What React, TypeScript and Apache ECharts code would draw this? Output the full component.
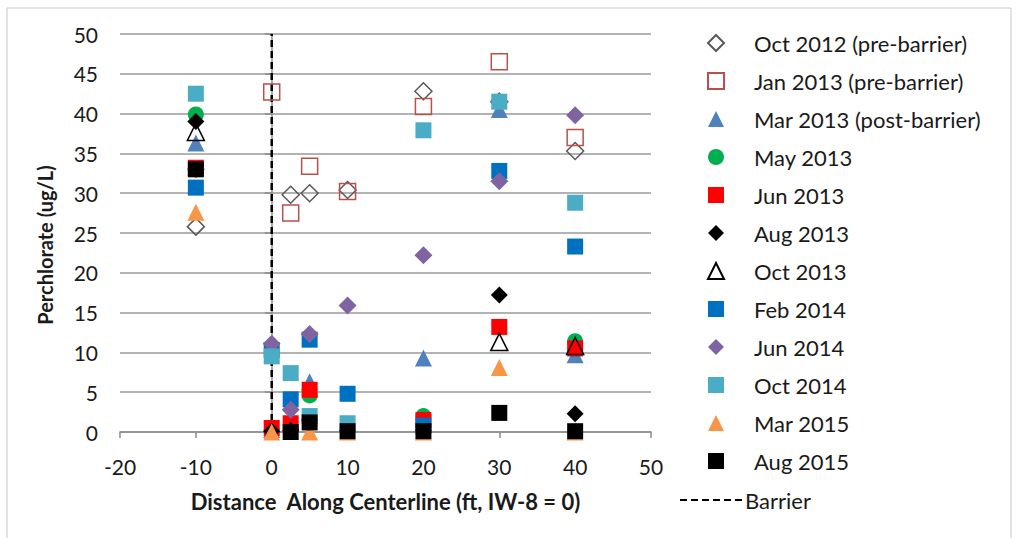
import React, { useEffect, useRef } from "react";
import * as echarts from "echarts";

const distances = [-10, 0, 2.5, 5, 10, 20, 30, 40];

const oct2012 = [25.8, null, 29.8, 30.0, 30.4, 42.8, 41.5, 35.3];
const jan2013 = [null, 42.7, 27.5, 33.4, 30.2, 40.9, 46.5, 37.0];
const mar2013 = [36.3, 0.3, null, 6.3, null, 9.3, 40.5, 9.7];
const may2013 = [39.9, 0.2, null, 4.6, null, 2.0, null, 11.4];
const jun2013 = [33.2, 0.5, 1.1, 5.3, null, 1.5, 13.2, 10.5];
const aug2013 = [39.0, 0.1, 0.2, 1.5, 0.2, 0.2, 17.2, 2.3];
const oct2013 = [37.7, null, null, null, null, null, 11.3, 10.8];
const feb2014 = [30.7, 10.3, 4.1, 11.6, 4.8, 0.8, 32.8, 23.3];
const jun2014 = [33.0, 11.1, 2.8, 12.3, 15.9, 22.2, 31.5, 39.8];
const oct2014 = [42.5, 9.5, 7.4, 2.0, 1.1, 37.9, 41.5, 28.8];
const mar2015 = [27.6, 0.0, null, 0.0, 0.0, 0.0, 8.1, 0.0];
const aug2015 = [33.0, null, 0.0, 1.2, 0.1, 0.1, 2.4, 0.1];

const barrierX = [0, 0];
const barrierY = [0, 50];

const FONT = "Lato";

type Def = {
  name: string;
  values: (number | null)[];
  symbol: string;
  size: number;
  color: string;
  hollow?: boolean;
};

const defs: Def[] = [
  { name: "Oct 2012 (pre-barrier)", values: oct2012, symbol: "diamond", size: 17, color: "#595959", hollow: true },
  { name: "Jan 2013 (pre-barrier)", values: jan2013, symbol: "rect", size: 16, color: "#B9504C", hollow: true },
  { name: "Mar 2013 (post-barrier)", values: mar2013, symbol: "triangle", size: 17, color: "#4F81BD" },
  { name: "May 2013", values: may2013, symbol: "circle", size: 16, color: "#00B050" },
  { name: "Jun 2013", values: jun2013, symbol: "rect", size: 16, color: "#FF0000" },
  { name: "Aug 2013", values: aug2013, symbol: "diamond", size: 17, color: "#000000" },
  { name: "Oct 2013", values: oct2013, symbol: "triangle", size: 17, color: "#000000", hollow: true },
  { name: "Feb 2014", values: feb2014, symbol: "rect", size: 16, color: "#0070C0" },
  { name: "Jun 2014", values: jun2014, symbol: "diamond", size: 18, color: "#8064A2" },
  { name: "Oct 2014", values: oct2014, symbol: "rect", size: 16, color: "#4BACC6" },
  { name: "Mar 2015", values: mar2015, symbol: "triangle", size: 17, color: "#F79646" },
  { name: "Aug 2015", values: aug2015, symbol: "rect", size: 16, color: "#000000" },
];

export default function App() {
  const ref = useRef<HTMLDivElement>(null);
  useEffect(() => {
    document.body.style.margin = "0";
    const chart = echarts.init(ref.current!, null, { renderer: "svg" });

    const scatter = defs.map((d) => ({
      name: d.name,
      type: "scatter",
      symbol: d.symbol,
      symbolSize: d.size,
      data: distances
        .map((x, i) => (d.values[i] == null ? null : [x, d.values[i]]))
        .filter((p) => p != null),
      itemStyle: d.hollow
        ? { color: "rgba(255,255,255,0)", borderColor: d.color, borderWidth: 1.5, opacity: 1 }
        : { color: d.color, opacity: 1 },
      emphasis: { disabled: true },
    }));

    const barrier = {
      name: "Barrier",
      type: "line",
      data: barrierX.map((x, i) => [x, barrierY[i]]),
      symbol: "none",
      lineStyle: { color: "#000", width: 2.5, type: [7, 4] },
      z: 1,
    };

    chart.setOption({
      animation: false,
      backgroundColor: "#fff",
      textStyle: { fontFamily: FONT },
      grid: { left: 120, top: 34, right: 366, bottom: 106, containLabel: false },
      xAxis: {
        type: "value",
        min: -20,
        max: 50,
        interval: 10,
        name: "Distance  Along Centerline (ft, IW-8 = 0)",
        nameLocation: "middle",
        nameGap: 58,
        nameTextStyle: { fontFamily: FONT, fontWeight: "bold", fontSize: 22, color: "#1a1a1a" },
        axisLine: { onZero: false, lineStyle: { color: "#8c8c8c", width: 1.5 } },
        axisTick: { show: true, length: 6, lineStyle: { color: "#8c8c8c", width: 1.5 } },
        axisLabel: { fontFamily: FONT, fontSize: 21, color: "#1a1a1a", margin: 24 },
        splitLine: { show: false },
      },
      yAxis: {
        type: "value",
        min: 0,
        max: 50,
        interval: 5,
        axisLine: { show: true, lineStyle: { color: "#8c8c8c", width: 1.5 } },
        axisTick: { show: true, length: 7, lineStyle: { color: "#8c8c8c", width: 1.5 } },
        axisLabel: { fontFamily: FONT, fontSize: 21, color: "#1a1a1a", margin: 22 },
        splitLine: { show: true, lineStyle: { color: "#9a9a9a", width: 1.5 } },
      },
      legend: {
        orient: "vertical",
        left: 702,
        top: 27,
        itemWidth: 16,
        itemHeight: 16,
        itemGap: 16,
        data: defs.map((d) => d.name),
        textStyle: { fontFamily: FONT, fontSize: 22, color: "#1a1a1a", padding: [0, 0, 0, 25] },
        selectedMode: false,
      },
      graphic: [
        {
          type: "rect",
          shape: { x: 7, y: 8, width: 1004, height: 540 },
          style: { fill: "none", stroke: "#c8c8c8", lineWidth: 1 },
          silent: true,
          z: -10,
        },
        {
          type: "text",
          x: 45,
          y: 245,
          rotation: Math.PI / 2,
          style: {
            text: "Perchlorate (ug/L)",
            font: `bold 20px ${FONT}`,
            fill: "#1a1a1a",
            align: "center",
            verticalAlign: "middle",
          },
        },
        {
          type: "line",
          shape: { x1: 680, y1: 500, x2: 742, y2: 500 },
          style: { stroke: "#000", lineWidth: 2, lineDash: [7, 4] },
        },
        {
          type: "text",
          x: 745,
          y: 500,
          style: { text: "Barrier", font: `22px ${FONT}`, fill: "#1a1a1a", verticalAlign: "middle" },
        },
      ],
      series: [barrier, ...scatter],
    });
    return () => chart.dispose();
  }, []);
  return <div ref={ref} style={{ width: 1017, height: 538 }} />;
}
